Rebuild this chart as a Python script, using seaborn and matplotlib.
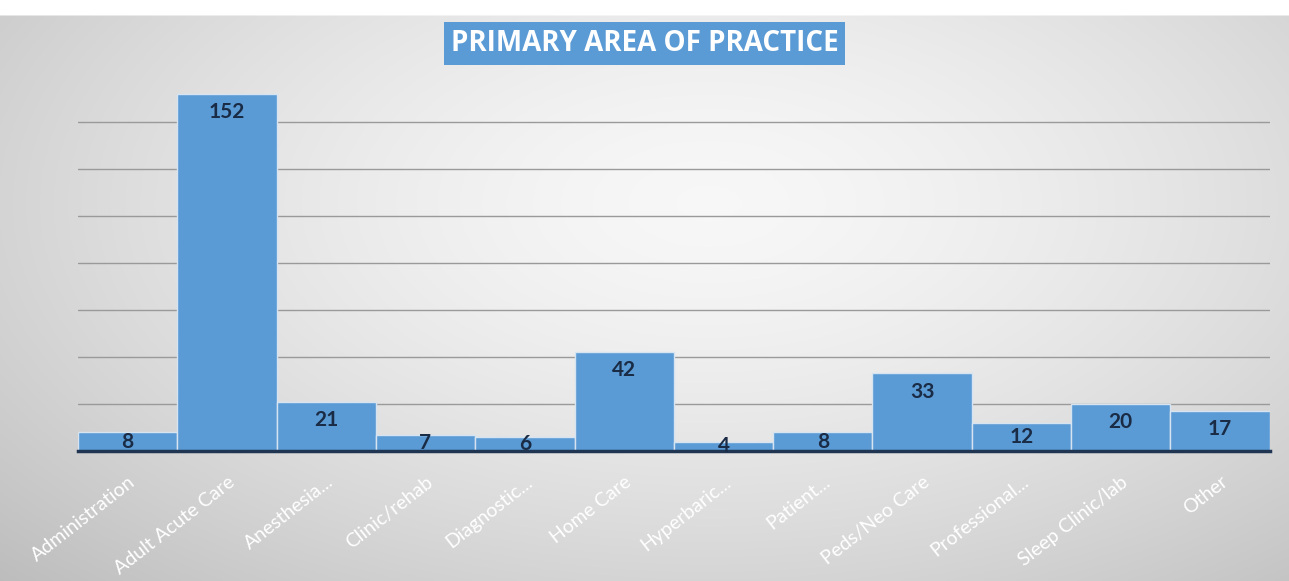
import numpy as np
import pandas as pd
import matplotlib
matplotlib.use("Agg")
import matplotlib.pyplot as plt
import seaborn as sns

categories = ["Administration", "Adult Acute Care", "Anesthesia...", "Clinic/rehab",
              "Diagnostic...", "Home Care", "Hyperbaric...", "Patient...",
              "Peds/Neo Care", "Professional...", "Sleep Clinic/lab", "Other"]
values = [8, 152, 21, 7, 6, 42, 4, 8, 33, 12, 20, 17]
title = "PRIMARY AREA OF PRACTICE"

df = pd.DataFrame({"category": categories, "count": values})

sns.set_theme(style="white")
plt.rcParams['font.family'] = ['Lato', 'DejaVu Sans']

fig = plt.figure(figsize=(12.89, 5.81), dpi=100)

# background gradient
bg = fig.add_axes([0, 0, 1, 1], zorder=0)
yy, xx = np.mgrid[0:1:300j, 0:1:600j]
r = np.sqrt(((xx - 0.55) / 0.75) ** 2 + ((yy - 0.35) / 0.9) ** 2)
shade = 0.97 - 0.22 * np.clip(r, 0, 1.3) ** 1.5
img = np.dstack([shade, shade, shade])
img[:8, :, :] = 1.0
bg.imshow(img, extent=[0, 1, 1, 0], aspect='auto')
bg.set_xlim(0, 1); bg.set_ylim(1, 0)
bg.axis('off')

ax = fig.add_axes([0.0605, 0.2238, 0.9245, 0.647], zorder=1)
ax.patch.set_alpha(0)
sns.barplot(data=df, x="category", y="count", color="#5B9BD5", width=1.0,
            edgecolor="#d6e4f2", linewidth=1.0, saturation=1, ax=ax, zorder=2)

ax.set_ylim(0, 160)
ax.set_xlim(-0.5, len(categories) - 0.5)
ax.set_yticks(np.arange(20, 160, 20))
ax.yaxis.grid(True, color="#9a9a9a", linewidth=1.0)
ax.set_axisbelow(True)
ax.tick_params(axis='y', left=False, labelleft=False)
for s in ["top", "right", "left"]:
    ax.spines[s].set_visible(False)
ax.spines["bottom"].set_color("#1f3552")
ax.spines["bottom"].set_linewidth(2.5)
ax.spines["bottom"].set_zorder(5)
ax.set_xlabel("")
ax.set_ylabel("")

ax.set_xticks(range(len(categories)))
ax.set_xticklabels(categories, rotation=38, ha='right', rotation_mode='anchor',
                   color='white', fontsize=14)
ax.tick_params(axis='x', bottom=False, pad=10)

for i, v in enumerate(values):
    y = max(v - 7.7, v / 2)
    ax.text(i, y, str(v), ha='center', va='center', fontsize=15,
            fontweight='bold', color='#1a2b45', zorder=6)

fig.text(0.5, 0.925, title, ha='center', va='center', fontsize=20,
         fontweight='bold', color='white', family=['Open Sans', 'DejaVu Sans'],
         bbox=dict(boxstyle='square,pad=0.25', facecolor='#5B9BD5', edgecolor='none'))

fig.savefig("out.png", dpi=100)
